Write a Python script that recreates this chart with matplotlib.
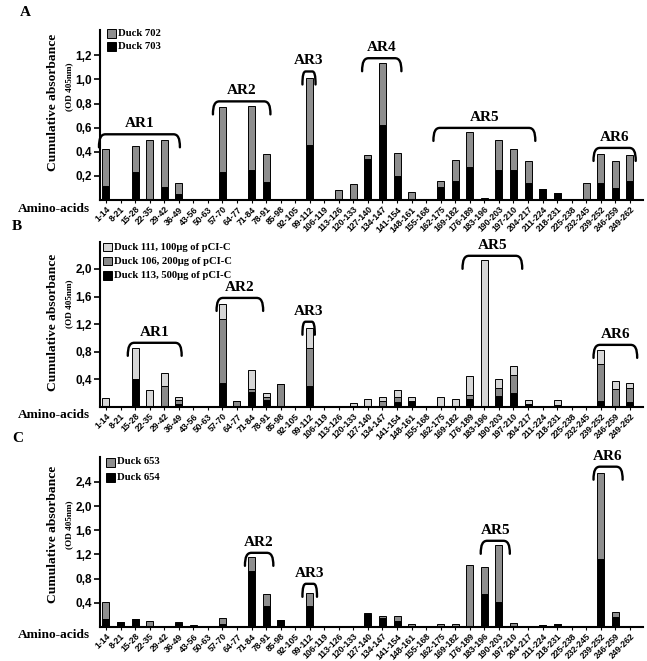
import matplotlib
matplotlib.use("Agg")
import matplotlib.pyplot as plt
from matplotlib.patches import Rectangle
from matplotlib.path import Path
from matplotlib.patches import PathPatch

W, H = 647, 661

peptides = ["1-14", "8-21", "15-28", "22-35", "29-42", "36-49", "43-56", "50-63",
            "57-70", "64-77", "71-84", "78-91", "85-98", "92-105", "99-112", "106-119",
            "113-126", "120-133", "127-140", "134-147", "141-154", "148-161", "155-168",
            "162-175", "169-182", "176-189", "183-196", "190-203", "197-210", "204-217",
            "211-224", "218-231", "225-238", "232-245", "239-252", "246-259", "249-262"]

# panel A
duck703 = [0.12, 0, 0.23, 0, 0.11, 0.05, 0, 0, 0.23, 0, 0.25, 0.15, 0, 0, 0.46, 0,
           0, 0, 0.34, 0.62, 0.20, 0, 0, 0.11, 0.16, 0.27, 0, 0.25, 0.25, 0.14,
           0.09, 0.06, 0, 0, 0.14, 0.10, 0.16]
duck702 = [0.30, 0, 0.22, 0.50, 0.39, 0.09, 0, 0, 0.54, 0, 0.53, 0.23, 0, 0, 0.55, 0,
           0.08, 0.13, 0.03, 0.52, 0.19, 0.07, 0, 0.05, 0.17, 0.29, 0.02, 0.25, 0.17, 0.18,
           0, 0, 0, 0.14, 0.24, 0.22, 0.21]

# panel B
duck113 = [0, 0, 0.41, 0, 0, 0.05, 0, 0, 0.35, 0, 0.22, 0.10, 0, 0, 0.30, 0,
           0, 0, 0.02, 0.01, 0.07, 0.08, 0, 0.01, 0, 0.11, 0, 0.16, 0.21, 0.05,
           0, 0.03, 0, 0.01, 0.08, 0.01, 0.07]
duck106 = [0, 0, 0, 0, 0.31, 0.05, 0.01, 0, 0.92, 0.09, 0.04, 0.045, 0.33, 0, 0.555, 0,
           0, 0, 0, 0.07, 0.075, 0, 0, 0, 0, 0.07, 0, 0.12, 0.26, 0,
           0, 0, 0, 0, 0.54, 0.25, 0.20]
duck111 = [0.13, 0, 0.44, 0.24, 0.18, 0.05, 0, 0, 0.22, 0, 0.27, 0.065, 0, 0, 0.295, 0,
           0, 0.06, 0.09, 0.07, 0.095, 0.07, 0, 0.135, 0.12, 0.27, 2.13, 0.12, 0.13, 0.055,
           0, 0.075, 0, 0, 0.20, 0.12, 0.08]

# panel C
duck654 = [0.14, 0.08, 0.14, 0, 0, 0.065, 0, 0, 0.055, 0, 0.92, 0.34, 0.12, 0, 0.34, 0,
           0, 0, 0.21, 0.155, 0.094, 0, 0, 0, 0, 0, 0.54, 0.41, 0.02, 0,
           0.027, 0.044, 0, 0, 1.13, 0.16, 0]
duck653 = [0.27, 0, 0, 0.10, 0, 0.015, 0.03, 0, 0.095, 0, 0.24, 0.21, 0, 0, 0.22, 0,
           0.017, 0, 0.015, 0.035, 0.096, 0.044, 0, 0.044, 0.055, 1.02, 0.46, 0.95, 0.046, 0,
           0, 0, 0, 0, 1.42, 0.09, 0]

# antigenic regions: name, first bar, last bar, height of bracket
regions_a = [("AR1", -0.48, 5.08, 0.545), ("AR2", 7.35, 11.3, 0.818), ("AR3", 13.5, 14.4, 1.066),
             ("AR4", 17.6, 20.3, 1.176), ("AR5", 22.5, 29.5, 0.598), ("AR6", 33.5, 36.4, 0.432)]
regions_b = [("AR1", 1.5, 5.2, 0.93), ("AR2", 7.6, 10.8, 1.58), ("AR3", 13.5, 14.35, 1.235),
             ("AR5", 24.5, 28.6, 2.19), ("AR6", 33.5, 36.5, 0.90)]
regions_c = [("AR2", 9.55, 11.5, 1.226), ("AR3", 13.5, 14.5, 0.714),
             ("AR5", 25.75, 27.75, 1.425), ("AR6", 33.5, 35.5, 2.65)]

SERIF = "Liberation Serif"
SANS = "Liberation Sans"


def fxy(px, py):
    return px / W, 1 - py / H


def bracket(ax, x0, x1, y, name, drop_px=13):
    ppu = ax.get_position().height * H / ax.get_ylim()[1]
    d = drop_px / ppu
    r = min(0.45, (x1 - x0) / 4)
    verts = [(x0, y - d), (x0, y - d * 0.3), (x0 + r * 0.3, y), (x0 + r, y),
             (x1 - r, y),
             (x1 - r * 0.3, y), (x1, y - d * 0.3), (x1, y - d)]
    codes = [Path.MOVETO, Path.CURVE4, Path.CURVE4, Path.CURVE4,
             Path.LINETO,
             Path.CURVE4, Path.CURVE4, Path.CURVE4]
    ax.add_patch(PathPatch(Path(verts, codes), fill=False, lw=1.7, color="black",
                           clip_on=False, capstyle="round"))
    ax.text((x0 + x1) / 2, y + 4 / ppu, name, ha="center", va="bottom",
            family=SERIF, weight="bold", fontsize=11, clip_on=False)


def panel(fig, top_px, bot_px, ymax, step, nticks, series, colors, regions,
          letter, letter_xy, ylab_y, odlab_y, amino_y, legend_rows):
    left, right = 100, 643
    x0, y0 = fxy(left, bot_px)
    ax = fig.add_axes([x0, y0, (right - left) / W, (bot_px - top_px) / H])
    xs = list(range(len(peptides)))
    bottom = [0] * len(peptides)
    for vals, col in zip(series, colors):
        ax.bar(xs, vals, width=0.48, bottom=bottom, color=col,
               edgecolor="black", linewidth=0.7)
        bottom = [b + v for b, v in zip(bottom, vals)]
    ax.set_xlim(-0.41, 36.9)
    ax.set_ylim(0, ymax)
    ax.spines["top"].set_visible(False)
    ax.spines["right"].set_visible(False)
    ax.spines["left"].set_linewidth(1.5)
    ax.spines["bottom"].set_linewidth(1.5)
    yt = [step * (i + 1) for i in range(nticks)]
    ax.set_yticks(yt)
    ax.set_yticklabels([f"{v:.1f}".replace(".", ",") for v in yt],
                       family=SANS, weight="bold", fontsize=8.5)
    ax.set_xticks(xs)
    ax.set_xticklabels(peptides, rotation=45, ha="right", rotation_mode="anchor",
                       family=SANS, weight="bold", fontsize=6.2)
    ax.tick_params(axis="y", length=4, width=1.2, pad=2)
    ax.tick_params(axis="x", length=2.5, width=0.8, pad=1)

    for name, a, b, y in regions:
        bracket(ax, a, b, y, name)

    fig.text(*fxy(*letter_xy), letter, family=SERIF, weight="bold", fontsize=11,
             ha="left", va="center")
    fig.text(*fxy(53, ylab_y), "Cumulative absorbance", rotation=90, family=SERIF,
             weight="bold", fontsize=9.7, ha="center", va="center")
    fig.text(*fxy(69, odlab_y), "(OD 405nm)", rotation=90, family=SERIF,
             weight="bold", fontsize=6.6, ha="center", va="center")
    fig.text(*fxy(90, amino_y), "Amino-acids", family=SERIF, weight="bold",
             fontsize=9.6, ha="right", va="center")

    # legend: top entry drawn first
    for (lab, col, px, py) in legend_rows:
        rx, ry = fxy(px, py + 4.5)
        fig.add_artist(Rectangle((rx, ry), 8.5 / W, 8.5 / H, transform=fig.transFigure,
                                 facecolor=col, edgecolor="black", linewidth=0.7))
        fig.text(*fxy(px + 11, py), lab, family=SERIF, weight="bold", fontsize=7.7,
                 ha="left", va="center")
    return ax


fig = plt.figure(figsize=(W / 100, H / 100), dpi=100)

grey = "#8e8e8e"
light = "#d6d6d6"
mid = "#8a8a8a"

panel(fig, 30, 200, 1.41, 0.2, 6, [duck703, duck702], ["black", grey], regions_a,
      "A", (20, 13), 102, 87, 209,
      [("Duck 702", grey, 107, 33.5), ("Duck 703", "black", 107, 46.5)])

panel(fig, 242, 407, 2.39, 0.4, 5, [duck113, duck106, duck111], ["black", mid, light],
      regions_b, "B", (12, 226), 322, 304, 415,
      [("Duck 111, 100µg of pCI-C", light, 103, 247),
       ("Duck 106, 200µg of pCI-C", mid, 103, 261),
       ("Duck 113, 500µg of pCI-C", "black", 103, 275)])

panel(fig, 457, 627, 2.81, 0.4, 6, [duck654, duck653], ["black", grey], regions_c,
      "C", (12, 438), 534, 525, 635,
      [("Duck 653", grey, 106, 462), ("Duck 654", "black", 106, 477)])

fig.savefig("out.png", dpi=100)
